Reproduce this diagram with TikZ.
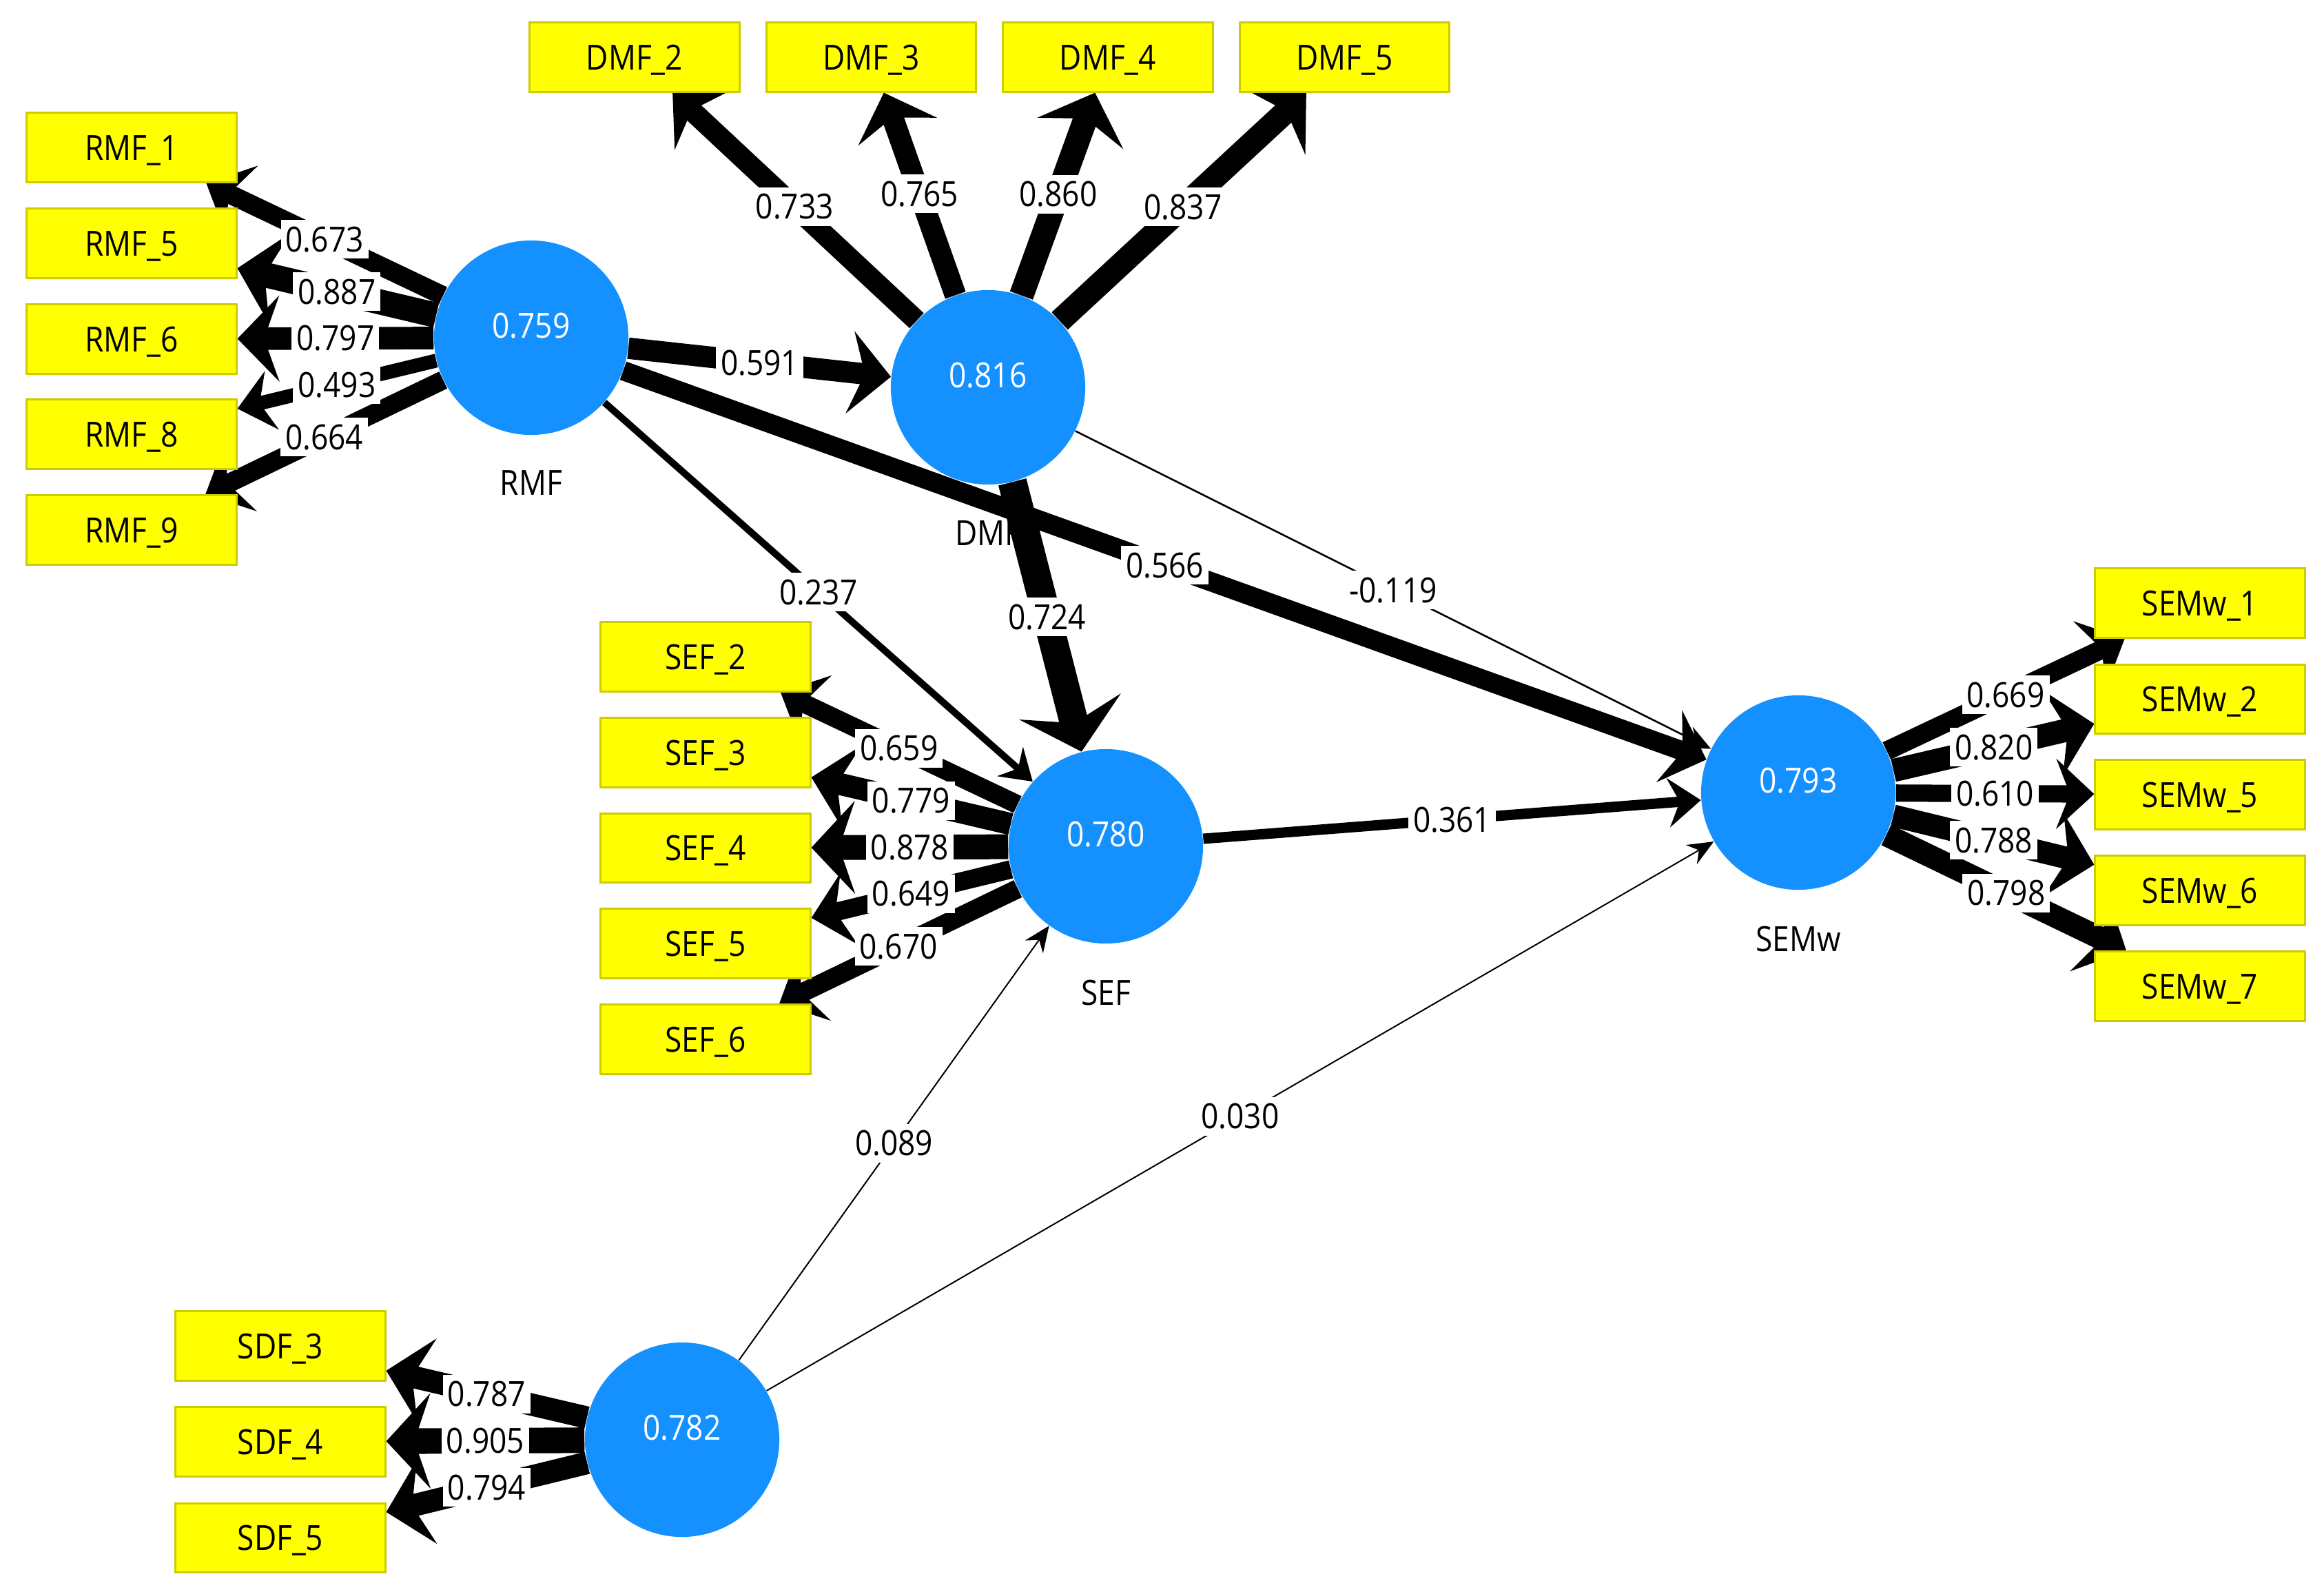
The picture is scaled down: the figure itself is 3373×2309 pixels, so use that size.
\documentclass[tikz,border=0pt]{standalone}
\usepackage{fontspec}
\setmainfont{Open Sans}[FakeStretch=0.88]
\usetikzlibrary{arrows.meta}
\definecolor{boxfill}{RGB}{255,255,0}
\definecolor{boxline}{RGB}{204,204,0}
\definecolor{lvfill}{RGB}{20,145,255}
\pgfdeclarelayer{back}
\pgfdeclarelayer{names}
\pgfdeclarelayer{edges}
\pgfdeclarelayer{labels}
\pgfsetlayers{back,names,edges,main,labels}
\tikzset{
  txt/.style={font=\fontsize{14.3}{17}\selectfont, text height=0.36cm, text depth=0cm},
  mv/.style={txt, rectangle, fill=boxfill, draw=boxline, line width=0.03cm,
    minimum width=3.04cm, minimum height=1.0cm, inner sep=0pt, text=black},
  lv/.style={txt, circle, fill=lvfill, minimum size=2.82cm, inner sep=0pt,
    text=white, text depth=0.36cm},
  lvname/.style={txt, text=black, inner sep=0pt},
  arr/.style={draw=black, line cap=butt,
    -{Stealth[length=3.6mm 0.75, width=2.6mm 3.0, inset=1.2mm 0.3]}},
  ind/.style={arr, line width=#1*4.1mm},
  pth/.style={arr, line width=#1*0.1mm},
  lbl/.style={txt, fill=white, inner xsep=0.07cm, inner ysep=0.1cm, text=black},
}
\begin{document}
\begin{tikzpicture}[x=0.01cm, y=-0.01cm]
\begin{pgfonlayer}{back}
\fill[white] (0,0) rectangle (3373,2309);
\end{pgfonlayer}
\useasboundingbox (0,0) rectangle (3373,2309);

% latent variables
\node[lv] (RMF)  at (771,490)   {0.759};
\node[lv] (DMF)  at (1434,562)  {0.816};
\node[lv] (SEF)  at (1605,1228) {0.780};
\node[lv] (SEMw) at (2610,1150) {0.793};
\node[lv] (SDF)  at (990,2089)  {0.782};

% indicators
\node[mv] (RMF1) at (191,214) {RMF\_1};
\node[mv] (RMF5) at (191,353) {RMF\_5};
\node[mv] (RMF6) at (191,492) {RMF\_6};
\node[mv] (RMF8) at (191,630) {RMF\_8};
\node[mv] (RMF9) at (191,769) {RMF\_9};

\node[mv] (DMF2) at (921,83)    {DMF\_2};
\node[mv] (DMF3) at (1264.5,83) {DMF\_3};
\node[mv] (DMF4) at (1608,83)   {DMF\_4};
\node[mv] (DMF5) at (1951.5,83) {DMF\_5};

\node[mv] (SEF2) at (1024,953)    {SEF\_2};
\node[mv] (SEF3) at (1024,1092)   {SEF\_3};
\node[mv] (SEF4) at (1024,1230.5) {SEF\_4};
\node[mv] (SEF5) at (1024,1369)   {SEF\_5};
\node[mv] (SEF6) at (1024,1508)   {SEF\_6};

\node[mv] (SEMw1) at (3193,875)    {SEMw\_1};
\node[mv] (SEMw2) at (3193,1014.5) {SEMw\_2};
\node[mv] (SEMw5) at (3193,1153)   {SEMw\_5};
\node[mv] (SEMw6) at (3193,1292)   {SEMw\_6};
\node[mv] (SEMw7) at (3193,1431)   {SEMw\_7};

\node[mv] (SDF3) at (407,1953)   {SDF\_3};
\node[mv] (SDF4) at (407,2092)   {SDF\_4};
\node[mv] (SDF5) at (407,2231.5) {SDF\_5};

% latent names
\begin{pgfonlayer}{names}
\node[lvname] (nRMF)  at ([yshift=-2.1cm]RMF.center)  {RMF};
\node[lvname] (nDMF)  at ([yshift=-2.11cm]DMF.center)  {DMF};
\node[lvname] (nSEF)  at ([yshift=-2.12cm]SEF.center)  {SEF};
\node[lvname] (nSEMw) at ([yshift=-2.12cm]SEMw.center) {SEMw};
\end{pgfonlayer}

% connectors
\begin{pgfonlayer}{edges}
\draw[ind=0.673] (RMF) -- (RMF1);
\draw[ind=0.887] (RMF) -- (RMF5);
\draw[ind=0.797] (RMF) -- (RMF6);
\draw[ind=0.493] (RMF) -- (RMF8);
\draw[ind=0.664] (RMF) -- (RMF9);

\draw[ind=0.733] (DMF) -- (DMF2);
\draw[ind=0.765] (DMF) -- (DMF3);
\draw[ind=0.860] (DMF) -- (DMF4);
\draw[ind=0.837] (DMF) -- (DMF5);

\draw[ind=0.659] (SEF) -- (SEF2);
\draw[ind=0.779] (SEF) -- (SEF3);
\draw[ind=0.878] (SEF) -- (SEF4);
\draw[ind=0.649] (SEF) -- (SEF5);
\draw[ind=0.670] (SEF) -- (SEF6);

\draw[ind=0.669] (SEMw) -- (SEMw1);
\draw[ind=0.820] (SEMw) -- (SEMw2);
\draw[ind=0.610] (SEMw) -- (SEMw5);
\draw[ind=0.788] (SEMw) -- (SEMw6);
\draw[ind=0.798] (SEMw) -- (SEMw7);

\draw[ind=0.787] (SDF) -- (SDF3);
\draw[ind=0.905] (SDF) -- (SDF4);
\draw[ind=0.794] (SDF) -- (SDF5);

\draw[pth=31]   (RMF) -- (DMF);
\draw[pth=28]   (RMF) -- (SEMw);
\draw[pth=10]   (RMF) -- (SEF);
\draw[pth=41.7] (DMF) -- (SEF);
\draw[pth=2.5]  (DMF) -- (SEMw);
\draw[pth=15]   (SEF) -- (SEMw);
\draw[pth=2]    (SDF) -- (SEF);
\draw[pth=2]    (SDF) -- (SEMw);
\end{pgfonlayer}

% connector labels
\begin{pgfonlayer}{labels}
\path (RMF) -- node[lbl] (lR1) {0.673} (RMF1);
\path (RMF) -- node[lbl] (lR5) {0.887} (RMF5);
\path (RMF) -- node[lbl] (lR6) {0.797} (RMF6);
\path (RMF) -- node[lbl] (lR8) {0.493} (RMF8);
\path (RMF) -- node[lbl] (lR9) {0.664} (RMF9);

\path (DMF) -- node[lbl] (lD2) {0.733} (DMF2);
\path (DMF) -- node[lbl] (lD3) {0.765} (DMF3);
\path (DMF) -- node[lbl] (lD4) {0.860} (DMF4);
\path (DMF) -- node[lbl] (lD5) {0.837} (DMF5);

\path (SEF) -- node[lbl] (lS2) {0.659} (SEF2);
\path (SEF) -- node[lbl] (lS3) {0.779} (SEF3);
\path (SEF) -- node[lbl] (lS4) {0.878} (SEF4);
\path (SEF) -- node[lbl] (lS5) {0.649} (SEF5);
\path (SEF) -- node[lbl] (lS6) {0.670} (SEF6);

\path (SEMw) -- node[lbl] (lW1) {0.669} (SEMw1);
\path (SEMw) -- node[lbl] (lW2) {0.820} (SEMw2);
\path (SEMw) -- node[lbl] (lW5) {0.610} (SEMw5);
\path (SEMw) -- node[lbl] (lW6) {0.788} (SEMw6);
\path (SEMw) -- node[lbl] (lW7) {0.798} (SEMw7);

\path (SDF) -- node[lbl] (lF3) {0.787} (SDF3);
\path (SDF) -- node[lbl] (lF4) {0.905} (SDF4);
\path (SDF) -- node[lbl] (lF5) {0.794} (SDF5);

\path (RMF) -- node[lbl] (pRD) {0.591} (DMF);
\path (RMF) -- node[lbl] (pRW) {0.566} (SEMw);
\path (RMF) -- node[lbl] (pRS) {0.237} (SEF);
\path (DMF) -- node[lbl] (pDS) {0.724} (SEF);
\path (DMF) -- node[lbl] (pDW) {-0.119} (SEMw);
\path (SEF) -- node[lbl] (pSW) {0.361} (SEMw);
\path (SDF) -- node[lbl] (pFS) {0.089} (SEF);
\path (SDF) -- node[lbl] (pFW) {0.030} (SEMw);
\end{pgfonlayer}
\end{tikzpicture}
\end{document}
